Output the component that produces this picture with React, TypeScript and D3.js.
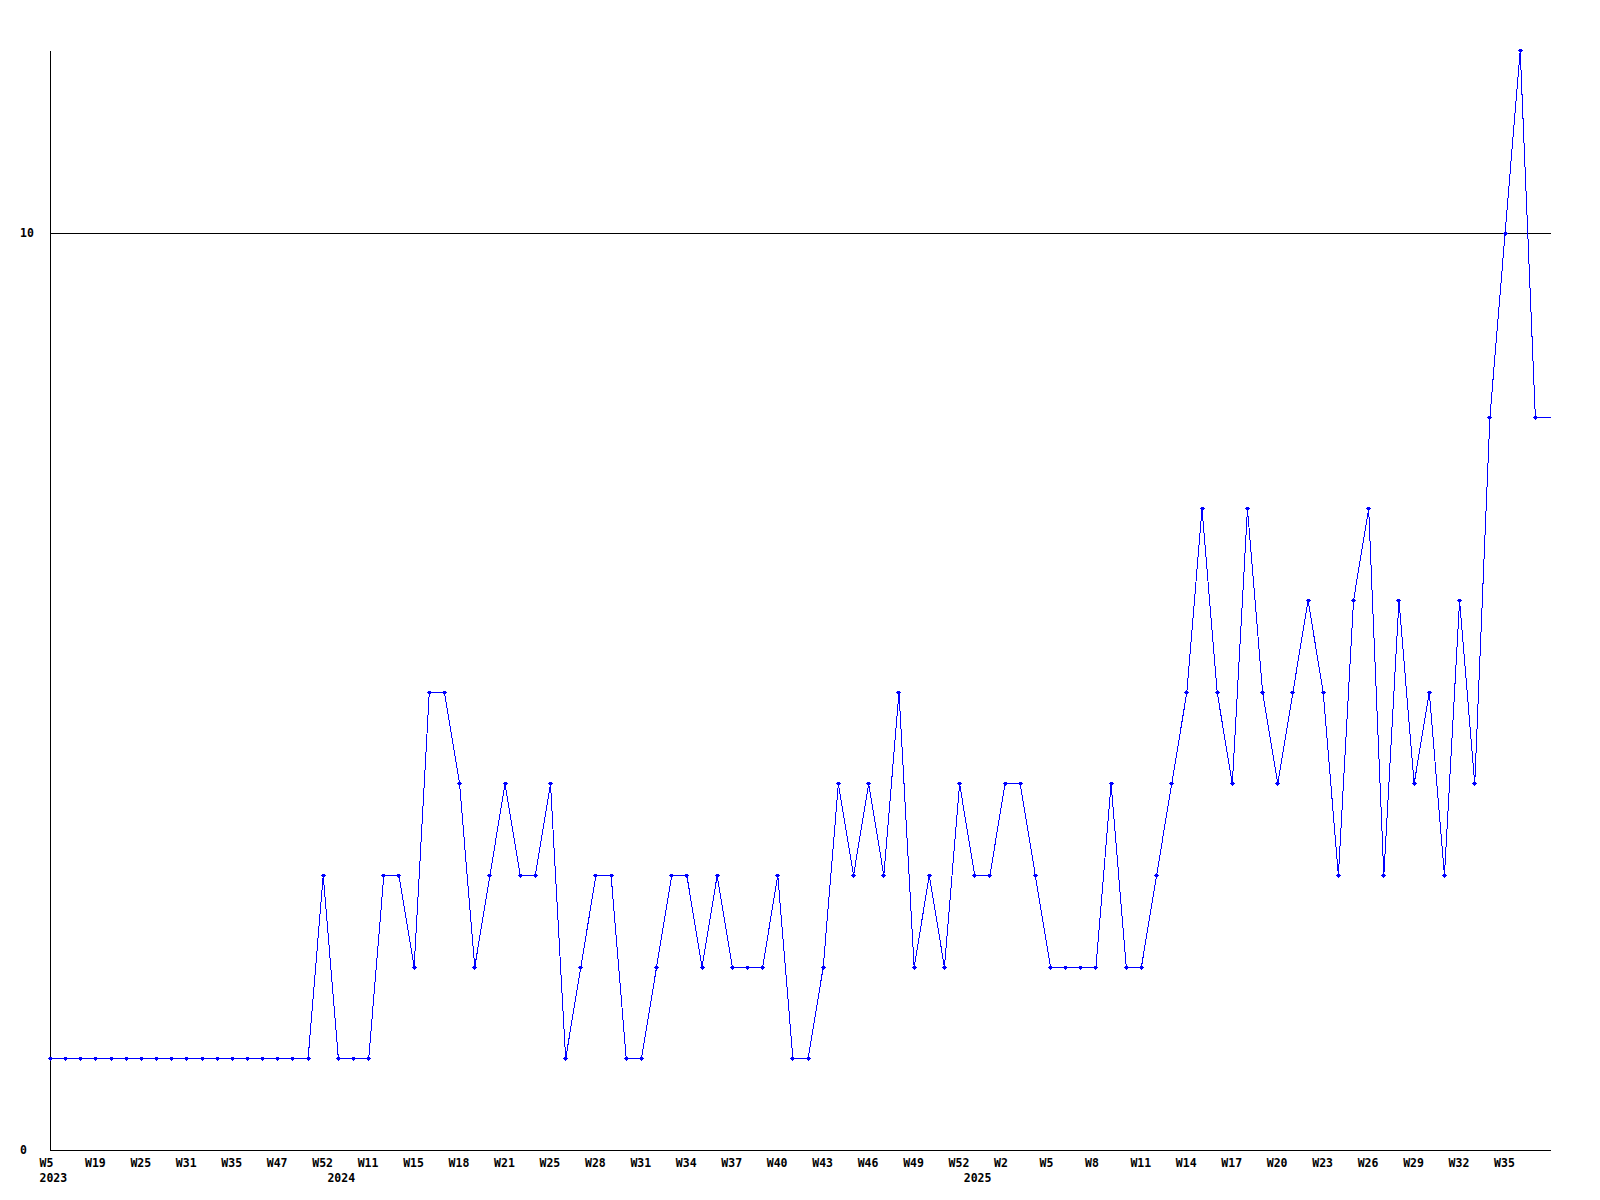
import React from 'react';
import * as d3 from 'd3';

// weekly counts, one per point (last one is the running week, drawn without marker)
const values = [
  1, 1, 1, 1, 1, 1, 1, 1, 1, 1, 1, 1, 1, 1, 1, 1, 1, 1,
  3, 1, 1, 1, 3, 3, 2, 5, 5, 4, 2, 3, 4, 3, 3, 4, 1, 2, 3, 3, 1, 1, 2, 3, 3, 2, 3,
  2, 2, 2, 3, 1, 1, 2, 4, 3, 4, 3, 5, 2, 3, 2, 4, 3, 3, 4, 4, 3, 2, 2, 2, 2, 4,
  2, 2, 3, 4, 5, 7, 5, 4, 7, 5, 4, 5, 6, 5, 3, 6, 7, 3, 6, 4, 5, 3, 6, 4, 8, 10, 12, 8,
  8,
];

// a week label on every third point
const weekLabels = [
  'W5', 'W19', 'W25', 'W31', 'W35', 'W47', 'W52',
  'W11', 'W15', 'W18', 'W21', 'W25', 'W28', 'W31', 'W34', 'W37', 'W40', 'W43', 'W46', 'W49', 'W52',
  'W2', 'W5', 'W8', 'W11', 'W14', 'W17', 'W20', 'W23', 'W26', 'W29', 'W32', 'W35',
];
const weekStep = 3;

const yearLabels = ['2023', '2024', '2025'];
const yearStarts = [0, 19, 61];

const yTicks = [0, 10];
const yMax = 12;

const W = 1600;
const H = 1200;
const left = 50;
const right = 1550;
const top = 50;
const bottom = 1150;
const font = '"DejaVu Sans Mono", monospace';

const App = () => {
  const x = d3.scaleLinear().domain([0, values.length - 1]).range([left, right]);
  const y = d3.scaleLinear().domain([0, yMax]).range([bottom, top]);

  const line = d3
    .line<number>()
    .x((d, i) => x(i))
    .y((d) => y(d));

  const marked = values.slice(0, values.length - 1);

  return (
    <svg
      width={W}
      height={H}
      style={{ position: 'absolute', left: 0, top: 0, background: '#fff' }}
    >
      <g transform="translate(0.5,0.5)">
        {/* grid line at 10 */}
        {yTicks
          .filter((t) => t > 0)
          .map((t) => (
            <line
              key={t}
              x1={left}
              x2={right}
              y1={Math.round(y(t))}
              y2={Math.round(y(t))}
              stroke="#000"
              shapeRendering="crispEdges"
            />
          ))}

        {/* axes */}
        <line x1={left} x2={left} y1={top} y2={bottom} stroke="#000" shapeRendering="crispEdges" />
        <line x1={left} x2={right} y1={bottom} y2={bottom} stroke="#000" shapeRendering="crispEdges" />

        <path
          d={line(values) || ''}
          fill="none"
          stroke="#0000ff"
          strokeWidth={1}
          shapeRendering="crispEdges"
        />

        {marked.map((d, i) => (
          <g key={i} transform={`translate(${Math.round(x(i))},${Math.round(y(d))})`}>
            <path d="M-2.5,0H2.5M0,-2V2" stroke="#0000ff" strokeWidth={1} shapeRendering="crispEdges" />
            <rect x={-1.5} y={-1.5} width={3} height={3} fill="#0000ff" shapeRendering="crispEdges" />
          </g>
        ))}
      </g>

      {/* y tick labels */}
      {yTicks.map((t) => (
        <text
          key={t}
          x={20}
          y={y(t) + 4}
          fontFamily={font}
          fontSize={11.5}
          fontWeight="bold"
          fill="#000"
        >
          {t}
        </text>
      ))}

      {/* week labels */}
      {weekLabels.map((w, k) => (
        <text
          key={k}
          x={x(k * weekStep) - 10.5}
          y={bottom + 17}
          fontFamily={font}
          fontSize={11.5}
          fontWeight="bold"
          fill="#000"
        >
          {w}
        </text>
      ))}

      {/* year labels */}
      {yearLabels.map((yr, k) => (
        <text
          key={yr}
          x={x(yearStarts[k]) - 10.5}
          y={bottom + 32}
          fontFamily={font}
          fontSize={11.5}
          fontWeight="bold"
          fill="#000"
        >
          {yr}
        </text>
      ))}
    </svg>
  );
};

export default App;
